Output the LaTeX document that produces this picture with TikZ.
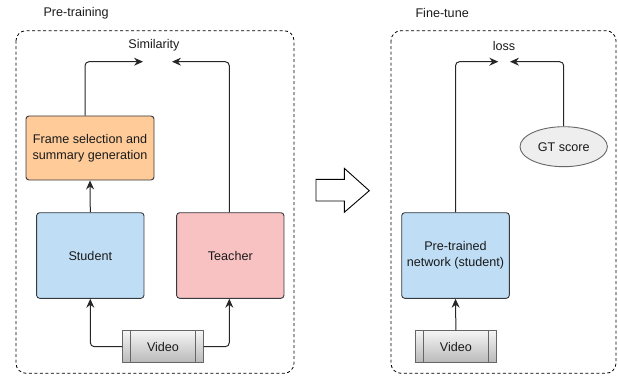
\documentclass[tikz,border=0pt]{standalone}
\usepackage{fontspec}
\setmainfont{Liberation Sans}
\usetikzlibrary{arrows.meta,calc,shapes.geometric}
\definecolor{bordc}{RGB}{54,57,61}
\definecolor{bluef}{RGB}{191,222,245}
\definecolor{pinkf}{RGB}{248,194,194}
\definecolor{orangef}{RGB}{255,203,153}
\definecolor{txtc}{RGB}{26,26,26}
\definecolor{gtf}{RGB}{238,238,238}
\definecolor{gtb}{RGB}{102,102,102}
\tikzset{
  x=1pt,y=-1pt,
  every node/.style={font=\fontsize{12.6}{16}\selectfont, text=txtc},
  groupbox/.style={draw=black, line width=0.8pt, dash pattern=on 3pt off 2.5pt, rounded corners=10pt},
  netbox/.style={draw=bordc, line width=0.9pt, rounded corners=3pt, align=center, inner sep=2pt},
  videobox/.style={draw=gtb, line width=0.9pt, top color=gray!8, bottom color=gray!55, minimum width=80.5pt, minimum height=32pt, inner sep=0pt},
  arr/.style={draw=black!85, line width=1pt, rounded corners=4pt, -{Stealth[length=9pt,width=8pt,inset=3pt]}},
}
\begin{document}
\begin{tikzpicture}
\useasboundingbox (0,0) rectangle (618,377);
% group boxes
\draw[groupbox] (16,30.7) rectangle (294,373.3);
\draw[groupbox] (391,30.7) rectangle (616,373.3);
\node[anchor=west] (ptlabel) at (40,13) {Pre-training};
\node[anchor=west] (ftlabel) at (412,13) {Fine-tune};

% left part
\node (sim) at (154,45.7) {Similarity};
\coordinate (simL) at (143,61.7);
\coordinate (simR) at (172,61.7);
\node[netbox, fill=orangef, minimum width=128pt, minimum height=64pt] (frame) at (90,148) {Frame selection and\\summary generation};
\node[netbox, fill=bluef, minimum width=107.3pt, minimum height=85.6pt] (student) at (90.3,255.5) {Student};
\node[netbox, fill=pinkf, minimum width=107.3pt, minimum height=85.6pt] (teacher) at (230.3,255.5) {Teacher};
\node[videobox] (video) at (163,346.7) {Video};
\draw[gtb, line width=0.9pt] ([xshift=8.3pt]video.north west) -- ([xshift=8.3pt]video.south west);
\draw[gtb, line width=0.9pt] ([xshift=-8.3pt]video.north east) -- ([xshift=-8.3pt]video.south east);

\draw[arr] (video.west) -| (student.south);
\draw[arr] (video.east) -| ([xshift=-1pt]teacher.south);
\draw[arr] (student.north) -- (frame.south);
\draw[arr] ([xshift=-5pt]frame.north) |- (simL);
\draw[arr] ([xshift=-1pt]teacher.north) |- (simR);

% block arrow
\draw[black, line width=0.9pt, fill=white] (316,179.3) -- (344.3,179.3) -- (344.3,168.3) -- (369.3,190.7) -- (344.3,212.3) -- (344.3,201) -- (316,201) -- cycle;

% right part
\node (loss) at (504,45.7) {loss};
\coordinate (lossL) at (498.3,61.7);
\coordinate (lossR) at (510,61.7);
\node[draw=gtb, line width=0.9pt, fill=gtf, ellipse, minimum width=87.4pt, minimum height=40pt, inner sep=0pt] (gt) at (563.7,146.7) {GT score};
\node[netbox, fill=bluef, minimum width=107.6pt, minimum height=85.6pt] (pre) at (455.5,255.5) {Pre-trained\\network (student)};
\node[videobox] (video2) at (455.9,346.7) {Video};
\draw[gtb, line width=0.9pt] ([xshift=8.3pt]video2.north west) -- ([xshift=8.3pt]video2.south west);
\draw[gtb, line width=0.9pt] ([xshift=-8.3pt]video2.north east) -- ([xshift=-8.3pt]video2.south east);

\draw[arr] (video2.north) -- (pre.south);
\draw[arr] (pre.north) |- (lossL);
\draw[arr] (gt.north) |- (lossR);
\end{tikzpicture}
\end{document}
